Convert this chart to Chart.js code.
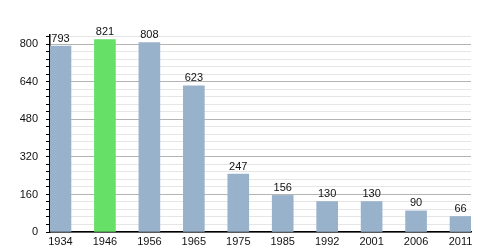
<!DOCTYPE html>
<html>
<head>
    <title>Population</title>
    <script src="https://cdn.jsdelivr.net/npm/chart.js"></script>
    <style>
        html, body {
            margin: 0;
            padding: 0;
            background: #fff;
        }
        #wrap {
            width: 500px;
            height: 250px;
            position: relative;
        }
    </style>
</head>
<body>
    <div id="wrap"><canvas id="popChart"></canvas></div>

    <script>
        const years = ["1934", "1946", "1956", "1965", "1975", "1985", "1992", "2001", "2006", "2011"];
        const population = [793, 821, 808, 623, 247, 156, 130, 130, 90, 66];
        const highlightIndex = 1;
        const yTickLabels = [0, 160, 320, 480, 640, 800];

        const BAR_COLOR = "#99b2cc";
        const HIGHLIGHT_COLOR = "#66e066";

        Chart.defaults.font.family = "'Liberation Sans', Arial, sans-serif";
        Chart.defaults.font.size = 11;
        Chart.defaults.color = "#111";

        // value labels above bars
        const barLabels = {
            id: "barLabels",
            afterDatasetsDraw(chart) {
                const ctx = chart.ctx;
                const meta = chart.getDatasetMeta(0);
                ctx.save();
                ctx.font = "11px 'Liberation Sans', Arial, sans-serif";
                ctx.fillStyle = "#111";
                ctx.textAlign = "center";
                ctx.textBaseline = "bottom";
                meta.data.forEach((bar, i) => {
                    ctx.fillText(String(population[i]), bar.x, bar.y - 2);
                });
                ctx.restore();
            }
        };

        const ctx = document.getElementById("popChart").getContext("2d");
        new Chart(ctx, {
            type: "bar",
            data: {
                datasets: [{
                    data: population.map((v, i) => ({ x: i, y: v })),
                    backgroundColor: population.map((v, i) => i === highlightIndex ? HIGHLIGHT_COLOR : BAR_COLOR),
                    barThickness: 21,
                    borderWidth: 0
                }]
            },
            options: {
                responsive: true,
                maintainAspectRatio: false,
                animation: false,
                layout: {
                    padding: { left: 0, right: 29, top: 35, bottom: 0 }
                },
                plugins: {
                    legend: { display: false },
                    tooltip: { enabled: false }
                },
                scales: {
                    x: {
                        type: "linear",
                        offset: false,
                        min: -0.236,
                        max: 9.236,
                        afterBuildTicks: (scale) => {
                            scale.ticks = years.map((y, i) => ({ value: i }));
                        },
                        afterFit: (scale) => { scale.height = 18; },
                        grid: { display: false, drawTicks: false },
                        border: { display: true, color: "#000", width: 1.5 },
                        ticks: {
                            padding: 3,
                            maxRotation: 0,
                            autoSkip: false,
                            callback: (value) => years[value]
                        }
                    },
                    y: {
                        min: 0,
                        max: 840,
                        afterBuildTicks: (scale) => {
                            const t = [];
                            for (let v = 0; v <= 832; v += 32) t.push({ value: v });
                            scale.ticks = t;
                        },
                        afterFit: (scale) => { scale.width = 50; },
                        border: { display: true, color: "#000", width: 1.5 },
                        grid: {
                            color: (c) => c.tick.value % 160 === 0 ? "#b4b4b4" : "#e6e6e6",
                            tickColor: "#000",
                            tickLength: 4
                        },
                        ticks: {
                            padding: 8,
                            autoSkip: false,
                            callback: (value) => yTickLabels.includes(value) ? value : ""
                        }
                    }
                }
            },
            plugins: [barLabels]
        });
    </script>
</body>
</html>
